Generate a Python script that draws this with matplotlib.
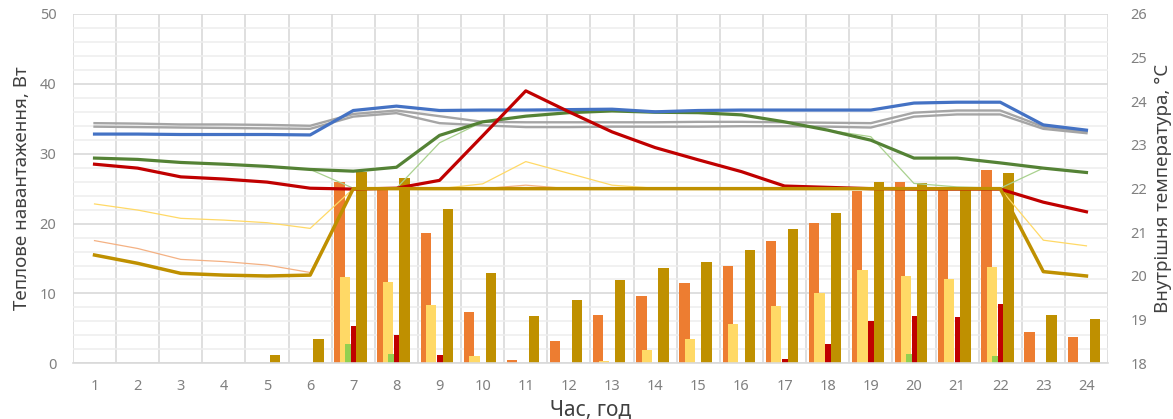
import numpy as np
import matplotlib
matplotlib.use("Agg")
import matplotlib.pyplot as plt

plt.rcParams['font.family'] = ['Noto Sans', 'DejaVu Sans']

# hours of the day
hours = list(range(1, 25))
hour_labels = [str(h) for h in hours]

# heat loads, W (left axis, bars)
load_orange = [0, 0, 0, 0, 0, 0, 25.9, 25.2, 18.6, 7.4, 0.43, 3.15,
               6.95, 9.7, 11.5, 14.0, 17.5, 20.1, 24.7, 26.0, 25.0, 27.7, 4.45, 3.7]
load_yellow = [0, 0, 0, 0, 0, 0, 12.4, 11.7, 8.4, 1.05, 0, 0,
               0.33, 1.9, 3.45, 5.6, 8.2, 10.1, 13.4, 12.5, 12.0, 13.85, 0, 0]
load_green = [0, 0, 0, 0, 0, 0, 2.8, 1.35, 0, 0, 0, 0,
              0, 0, 0, 0, 0, 0, 0, 1.35, 0, 1.05, 0, 0]
load_red = [0, 0, 0, 0, 0, 0, 5.4, 4.07, 1.15, 0, 0, 0,
            0, 0, 0, 0, 0.6, 2.7, 6.0, 6.8, 6.7, 8.5, 0, 0]
load_gold = [0, 0, 0, 0, 1.2, 3.45, 27.4, 26.5, 22.05, 12.95, 6.8, 9.1,
             11.9, 13.65, 14.5, 16.25, 19.2, 21.5, 26.0, 25.75, 25.1, 27.2, 6.95, 6.3]

# indoor temperatures, °C (right axis, lines)
temp_blue = [23.25, 23.25, 23.24, 23.24, 23.24, 23.23, 23.79, 23.89, 23.79, 23.80, 23.80, 23.81,
             23.82, 23.76, 23.79, 23.80, 23.80, 23.80, 23.80, 23.96, 23.98, 23.98, 23.46, 23.34]
temp_gray_a = [23.50, 23.49, 23.47, 23.47, 23.46, 23.44, 23.71, 23.79, 23.66, 23.53, 23.52, 23.52,
               23.52, 23.52, 23.53, 23.53, 23.52, 23.51, 23.50, 23.74, 23.79, 23.79, 23.42, 23.30]
temp_gray_b = [23.42, 23.41, 23.40, 23.39, 23.38, 23.37, 23.65, 23.73, 23.50, 23.45, 23.41, 23.41,
               23.42, 23.42, 23.42, 23.43, 23.43, 23.42, 23.40, 23.65, 23.70, 23.70, 23.37, 23.27]
temp_green = [22.70, 22.67, 22.60, 22.56, 22.51, 22.44, 22.40, 22.49, 23.22, 23.53, 23.66, 23.74,
              23.78, 23.75, 23.74, 23.69, 23.53, 23.34, 23.11, 22.70, 22.70, 22.59, 22.47, 22.37]
temp_green_thin = [22.70, 22.67, 22.60, 22.56, 22.51, 22.44, 22.01, 22.01, 23.05, 23.53, 23.66, 23.74,
                   23.78, 23.75, 23.74, 23.69, 23.53, 23.34, 23.19, 22.12, 22.04, 22.01, 22.47, 22.37]
temp_red = [22.56, 22.47, 22.27, 22.22, 22.15, 22.01, 21.99, 22.01, 22.19, 23.21, 24.24, 23.76,
            23.30, 22.94, 22.66, 22.39, 22.06, 22.03, 22.00, 21.99, 21.99, 21.99, 21.69, 21.47]
temp_gold = [20.48, 20.29, 20.06, 20.02, 20.00, 20.02, 22.0, 22.0, 22.0, 22.0, 22.0, 22.0,
             22.0, 22.0, 22.0, 22.0, 22.0, 22.0, 22.0, 22.0, 22.0, 22.0, 20.10, 20.00]
temp_yellow_thin = [21.65, 21.51, 21.32, 21.28, 21.22, 21.09, 22.0, 22.0, 22.0, 22.11, 22.62, 22.35,
                    22.08, 22.01, 22.0, 22.0, 22.0, 22.0, 22.0, 22.0, 22.0, 22.0, 20.82, 20.69]
temp_orange_thin = [20.81, 20.63, 20.38, 20.33, 20.25, 20.08, 22.0, 22.0, 22.0, 22.0, 22.08, 22.0,
                    22.0, 22.0, 22.0, 22.0, 22.0, 22.0, 22.0, 22.0, 22.0, 22.0, 20.10, 20.00]

fig = plt.figure(figsize=(11.73, 4.19), dpi=100)
ax = fig.add_axes([0.0622, 0.1329, 0.8824, 0.8337])
ax2 = ax.twinx()

x = np.array(hours, dtype=float)

# grid: category separators and horizontal lines
ax.set_xlim(0.5, 24.5)
ax.set_ylim(0, 50)
ax.set_yticks(np.arange(0, 51, 10))
ax.set_yticks(np.arange(0, 51, 2), minor=True)
ax.set_xticks(x)
ax.set_xticklabels(hour_labels)
ax.set_xticks(np.arange(0.5, 25, 1), minor=True)
ax.grid(True, which='minor', axis='y', color='#EEEEEE', lw=1.1, zorder=0)
ax.grid(True, which='major', axis='y', color='#D9D9D9', lw=1.2, zorder=0)
ax.grid(True, which='minor', axis='x', color='#D9D9D9', lw=1.2, zorder=0)
ax.set_axisbelow(True)

# clustered bars
bar_series = [(load_orange, '#ED7D31'), (load_yellow, '#FFD966'), (load_green, '#92D050'),
              (load_red, '#C00000'), (load_gold, '#BF9000')]
step = 0.1276
width = 0.24
for i, (vals, col) in enumerate(bar_series):
    ax.bar(x + (i - 2.5) * step, vals, width=width, color=col, linewidth=0, zorder=2)

# temperature lines
ax2.set_ylim(18, 26)
ax2.set_yticks(np.arange(18, 27, 1))
ax2.plot(x, temp_gray_a, color='#A5A5A5', lw=1.7, zorder=3)
ax2.plot(x, temp_gray_b, color='#A5A5A5', lw=1.7, zorder=3)
ax2.plot(x, temp_green_thin, color='#A9D18E', lw=0.9, zorder=3)
ax2.plot(x, temp_yellow_thin, color='#FFD966', lw=0.9, zorder=3)
ax2.plot(x, temp_orange_thin, color='#F4B183', lw=0.9, zorder=3)
ax2.plot(x, temp_green, color='#548235', lw=2.3, zorder=4)
ax2.plot(x, temp_blue, color='#4472C4', lw=2.3, zorder=4)
ax2.plot(x, temp_red, color='#C00000', lw=2.3, zorder=4)
ax2.plot(x, temp_gold, color='#BF9000', lw=2.5, zorder=5)

for a in (ax, ax2):
    for s in a.spines.values():
        s.set_visible(False)
    a.tick_params(axis='both', which='both', length=0, labelsize=10.5, labelcolor='#808080')
ax.spines['bottom'].set_visible(True)
ax.spines['bottom'].set_color('#D9D9D9')
ax.spines['bottom'].set_linewidth(1.2)
ax.tick_params(axis='y', pad=12)
ax.tick_params(axis='x', pad=11)
ax2.tick_params(axis='y', pad=16)

ax.set_xlabel('Час, год', fontsize=15, color='#404040', labelpad=4)
ax.set_ylabel('Теплове навантаження, Вт', fontsize=13.5, color='#404040', labelpad=6)
ax2.set_ylabel('Внутрішня температура, °С', fontsize=13.5, color='#404040',
               rotation=90, labelpad=5)

fig.savefig('out.png', dpi=100)
